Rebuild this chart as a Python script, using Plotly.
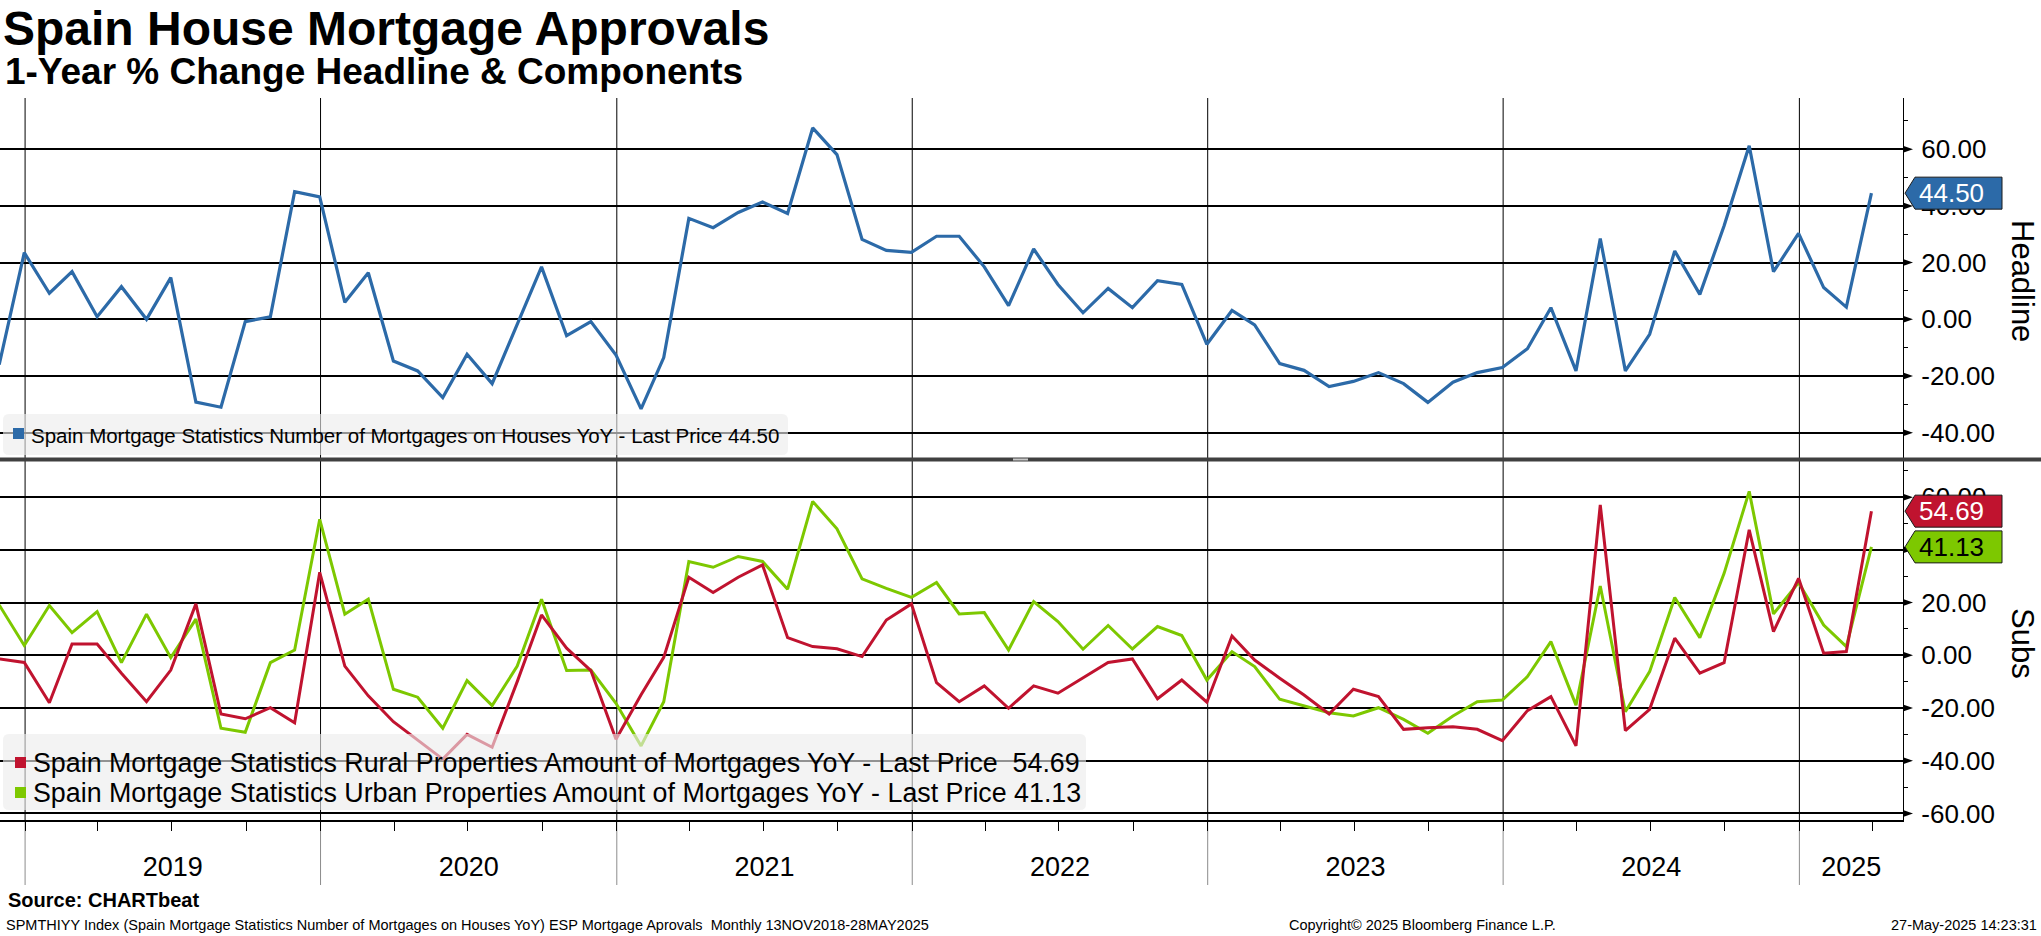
import pandas as pd
import plotly.graph_objects as go

# ---------------- data ----------------
months = pd.date_range("2018-11-30", "2025-03-31", freq="ME")

headline = [
    -16.0, 23.5,
    9.2, 16.8, 0.9, 11.5, 0.0, 14.7, -29.2, -31.0, -0.8, 0.9, 45.0, 43.2,
    6.0, 16.4, -14.7, -18.2, -27.6, -12.3, -22.7, -2.0, 18.5, -5.8, -0.8, -12.6,
    -31.6, -13.5, 35.6, 32.3, 37.7, 41.4, 37.3, 67.5, 58.1, 28.2, 24.3, 23.6,
    29.3, 29.3, 18.5, 4.8, 24.8, 12.3, 2.3, 10.9, 4.1, 13.6, 12.3, -8.8,
    3.1, -2.0, -15.6, -18.0, -23.7, -21.9, -18.8, -22.7, -29.3, -22.2, -18.8, -17.0,
    -10.4, 4.1, -18.2, 28.5, -18.2, -5.3, 24.1, 8.8, 33.0, 61.2, 16.8, 30.3,
    11.2, 4.3, 44.50,
]

rural = [
    -1.4, -2.7,
    -18.0, 4.3, 4.3, -6.8, -17.6, -5.6, 19.5, -22.3, -24.1, -19.9, -25.6, 31.5,
    -4.1, -15.4, -25.2, -32.2, -39.4, -30.0, -34.9, -10.0, 15.3, 2.7, -5.8, -31.9,
    -15.0, -0.8, 29.6, 23.8, 29.6, 34.3, 6.7, 3.3, 2.5, -0.5, 13.4, 19.5,
    -10.4, -17.6, -11.6, -20.1, -11.6, -14.4, -8.5, -2.7, -1.4, -16.5, -9.4, -17.8,
    7.3, -1.8, -8.7, -15.1, -22.3, -12.9, -15.7, -28.1, -27.5, -27.1, -28.1, -32.4,
    -21.0, -15.7, -34.4, 57.1, -28.6, -20.5, 6.5, -6.8, -2.8, 47.6, 9.0, 29.2,
    0.8, 1.4, 54.69,
]

urban = [
    19.1, 3.7,
    18.9, 8.6, 16.6, -2.8, 15.6, -0.9, 13.7, -27.7, -29.2, -2.8, 2.0, 51.6,
    15.6, 21.3, -12.9, -15.9, -27.7, -9.6, -19.1, -4.1, 21.3, -5.8, -5.6, -18.2,
    -34.4, -17.6, 35.6, 33.4, 37.5, 35.6, 25.1, 58.4, 48.0, 29.0, 25.4, 22.0,
    27.6, 15.7, 16.2, 2.0, 20.4, 12.8, 2.3, 11.3, 2.4, 10.9, 7.5, -9.4,
    1.4, -4.3, -16.7, -19.2, -21.8, -23.0, -19.9, -24.3, -29.6, -23.0, -17.6, -17.0,
    -8.1, 5.2, -18.9, 26.3, -21.4, -6.2, 21.9, 6.7, 31.1, 62.2, 15.7, 27.6,
    11.5, 3.3, 41.13,
]

years = [2019, 2020, 2021, 2022, 2023, 2024, 2025]
top_ticks = [-40, -20, 0, 20, 40, 60]
sub_ticks = [-60, -40, -20, 0, 20, 40, 60]

headline_name = "Spain Mortgage Statistics Number of Mortgages on Houses YoY"
rural_name = "Spain Mortgage Statistics Rural Properties Amount of Mortgages YoY"
urban_name = "Spain Mortgage Statistics Urban Properties Amount of Mortgages YoY"

title = "Spain House Mortgage Approvals"
subtitle = "1-Year % Change Headline & Components"
source = "Source: CHARTbeat"
footer = ("SPMTHIYY Index (Spain Mortgage Statistics Number of Mortgages on Houses YoY) "
          "ESP Mortgage Aprovals\u00a0 Monthly 13NOV2018-28MAY2025")
copyright_txt = "Copyright\u00a9 2025 Bloomberg Finance L.P."
stamp = "27-May-2025 14:23:31"

# ---------------- styles / layout ----------------
BLUE = "#2c6aa8"
RED = "#c0132f"
GREEN = "#7dc800"
FONT = "Liberation Sans"

W, H = 2041, 936
PL, PR, PT, PB = 0, 1903, 98, 820      # plot area in screen px
TOP_BOTTOM_PX, SUB_TOP_PX = 458, 460
X_RANGE = ["2018-12-01", "2025-05-09"]
Y1_RANGE = [-48.92, 78.06]
Y2_RANGE = [-62.5, 74.1]


def py(px):
    return (PB - px) / (PB - PT)


def pxx(px):
    return (px - PL) / (PR - PL)


def rrect(x0, y0, x1, y1, r):
    X0, X1 = x0 - PL, x1 - PL
    Yt, Yb = PB - y0, PB - y1
    return (f"M{X0 + r},{Yt} L{X1 - r},{Yt} Q{X1},{Yt} {X1},{Yt - r} "
            f"L{X1},{Yb + r} Q{X1},{Yb} {X1 - r},{Yb} L{X0 + r},{Yb} "
            f"Q{X0},{Yb} {X0},{Yb + r} L{X0},{Yt - r} Q{X0},{Yt} {X0 + r},{Yt} Z")


def pixel_shape(path, fill, line_w=0, line_c="black", layer="above"):
    return dict(type="path", xref="paper", yref="paper", xsizemode="pixel",
                ysizemode="pixel", xanchor=0, yanchor=0, path=path,
                fillcolor=fill, line=dict(width=line_w, color=line_c), layer=layer)


fig = go.Figure()
fig.add_trace(go.Scatter(x=months, y=headline, mode="lines", name=headline_name,
                         line=dict(color=BLUE, width=3.2), xaxis="x", yaxis="y"))
fig.add_trace(go.Scatter(x=months, y=urban, mode="lines", name=urban_name,
                         line=dict(color=GREEN, width=3), xaxis="x2", yaxis="y2"))
fig.add_trace(go.Scatter(x=months, y=rural, mode="lines", name=rural_name,
                         line=dict(color=RED, width=3), xaxis="x2", yaxis="y2"))

# year label positions: middle of each visible year
x_end = pd.Timestamp(X_RANGE[1])
mids = []
for yr in years:
    s = pd.Timestamp(yr, 1, 1)
    e = min(pd.Timestamp(yr + 1, 1, 1), x_end)
    mids.append(s + (e - s) / 2)

yaxis_common = dict(side="right", tickmode="array", ticks="outside", ticklen=12,
                    tickcolor="rgba(0,0,0,0)", showline=True, linecolor="black",
                    linewidth=1.2, showgrid=True, gridcolor="black", gridwidth=1.5,
                    zeroline=False, tickfont=dict(size=26, family=FONT, color="black"),
                    minor=dict(dtick=10, tick0=0, ticks="outside", ticklen=4,
                               tickcolor="black", tickwidth=1, showgrid=False))

fig.update_layout(
    width=W, height=H,
    margin=dict(l=PL, r=W - PR, t=PT, b=H - PB, pad=0),
    paper_bgcolor="white", plot_bgcolor="rgba(0,0,0,0)",
    showlegend=False, hovermode=False,
    font=dict(family=FONT, color="black"),
    xaxis=dict(domain=[0, 1], anchor="y", range=X_RANGE, type="date",
               showgrid=False, showticklabels=False, ticks="", showline=False,
               zeroline=False),
    xaxis2=dict(domain=[0, 1], anchor="y2", range=X_RANGE, type="date", matches="x",
                tickmode="array", tickvals=mids, ticktext=[str(y) for y in years],
                ticks="", showgrid=False, showline=True, linecolor="black",
                linewidth=1.5, zeroline=False, ticklabelstandoff=22,
                tickfont=dict(size=27, family=FONT, color="black"),
                minor=dict(dtick="M3", tick0="2019-01-01", ticks="outside",
                           ticklen=9, tickcolor="black", tickwidth=1, showgrid=False)),
    yaxis=dict(domain=[py(TOP_BOTTOM_PX), 1], anchor="x", range=Y1_RANGE,
               tickvals=top_ticks, ticktext=[f"{v:.2f}" for v in top_ticks],
               **yaxis_common),
    yaxis2=dict(domain=[0, py(SUB_TOP_PX)], anchor="x2", range=Y2_RANGE,
                tickvals=sub_ticks, ticktext=[f"{v:.2f}" for v in sub_ticks],
                **yaxis_common),
)

shapes = []
# vertical year lines
for yr in years:
    d = f"{yr}-01-01"
    shapes.append(dict(type="line", xref="x", yref="paper", x0=d, x1=d, y0=0, y1=1,
                       line=dict(color="black", width=1), layer="below"))
    shapes.append(dict(type="line", xref="x", yref="paper", x0=d, x1=d,
                       y0=py(885), y1=0, line=dict(color="#8c8c8c", width=1),
                       layer="below"))

# tick triangles
for yref, ticks in (("y", top_ticks), ("y2", sub_ticks)):
    for v in ticks:
        shapes.append(dict(type="path", xref="paper", yref=yref, xsizemode="pixel",
                           ysizemode="pixel", xanchor=1, yanchor=v,
                           path="M0,3.5 L10,0 L0,-3.5 Z", fillcolor="black",
                           line=dict(width=0), layer="above"))

# separator between panels
shapes.append(dict(type="line", xref="paper", yref="paper", x0=0, x1=pxx(W),
                   y0=py(459.5), y1=py(459.5), line=dict(color="#404040", width=4),
                   layer="above"))
shapes.append(dict(type="line", xref="paper", yref="paper", x0=pxx(1013), x1=pxx(1028),
                   y0=py(459.5), y1=py(459.5), line=dict(color="#c8c8c8", width=2),
                   layer="above"))

# legend boxes (semi-transparent) and swatches
shapes.append(pixel_shape(rrect(3, 414, 788, 455, 6), "rgba(236,236,236,0.62)"))
shapes.append(pixel_shape(rrect(13, 428, 24, 439, 0), BLUE))
shapes.append(pixel_shape(rrect(3, 734, 1086, 810, 6), "rgba(236,236,236,0.62)"))
shapes.append(pixel_shape(rrect(15, 757, 26, 768, 0), RED))
shapes.append(pixel_shape(rrect(15, 787, 26, 798, 0), GREEN))

# last value tags
tag_path = "M2,0 L12,16 L99,16 L99,-16 L12,-16 Z"
for yref, val, col in (("y", headline[-1], BLUE), ("y2", rural[-1], RED),
                       ("y2", urban[-1], GREEN)):
    shapes.append(dict(type="path", xref="paper", yref=yref, xsizemode="pixel",
                       ysizemode="pixel", xanchor=1, yanchor=val, path=tag_path,
                       fillcolor=col, line=dict(width=1, color="#1a1a1a"),
                       layer="above"))

fig.update_layout(shapes=shapes)

ann = []
ann.append(dict(text=f"<b>{title}</b>", x=pxx(1), y=py(28), xref="paper", yref="paper",
                xanchor="left", yanchor="middle", showarrow=False,
                font=dict(size=48, family=FONT, color="black")))
ann.append(dict(text=f"<b>{subtitle}</b>", x=pxx(3), y=py(72), xref="paper",
                yref="paper", xanchor="left", yanchor="middle", showarrow=False,
                font=dict(size=37, family=FONT, color="black")))
ann.append(dict(text=f"<b>{source}</b>", x=pxx(6), y=py(900), xref="paper",
                yref="paper", xanchor="left", yanchor="middle", showarrow=False,
                font=dict(size=20, family=FONT, color="black")))
ann.append(dict(text=footer, x=pxx(4), y=py(925), xref="paper", yref="paper",
                xanchor="left", yanchor="middle", showarrow=False,
                font=dict(size=14.5, family=FONT, color="black")))
ann.append(dict(text=copyright_txt, x=pxx(1287), y=py(925), xref="paper", yref="paper",
                xanchor="left", yanchor="middle", showarrow=False,
                font=dict(size=14.5, family=FONT, color="black")))
ann.append(dict(text=stamp, x=pxx(2039), y=py(925), xref="paper", yref="paper",
                xanchor="right", yanchor="middle", showarrow=False,
                font=dict(size=14.5, family=FONT, color="black")))

# panel titles on the right
ann.append(dict(text="Headline", x=pxx(2023), y=py(281), xref="paper", yref="paper",
                xanchor="center", yanchor="middle", textangle=90, showarrow=False,
                font=dict(size=31, family=FONT, color="black")))
ann.append(dict(text="Subs", x=pxx(2023), y=py(643), xref="paper", yref="paper",
                xanchor="center", yanchor="middle", textangle=90, showarrow=False,
                font=dict(size=31, family=FONT, color="black")))

# legend texts
ann.append(dict(text=f"{headline_name} - Last Price {headline[-1]:.2f}",
                x=pxx(29), y=py(435), xref="paper", yref="paper", xanchor="left",
                yanchor="middle", showarrow=False,
                font=dict(size=20.5, family=FONT, color="black")))
ann.append(dict(text=f"{rural_name} - Last Price\u00a0 {rural[-1]:.2f}",
                x=pxx(31), y=py(763), xref="paper", yref="paper", xanchor="left",
                yanchor="middle", showarrow=False,
                font=dict(size=26.8, family=FONT, color="black")))
ann.append(dict(text=f"{urban_name} - Last Price {urban[-1]:.2f}",
                x=pxx(31), y=py(793), xref="paper", yref="paper", xanchor="left",
                yanchor="middle", showarrow=False,
                font=dict(size=26.8, family=FONT, color="black")))

# tag labels
for yref, val, tc in (("y", headline[-1], "white"), ("y2", rural[-1], "white"),
                      ("y2", urban[-1], "black")):
    ann.append(dict(text=f"{val:.2f}", x=1, xref="paper", xanchor="left", xshift=14,
                    y=val, yref=yref, yanchor="middle", showarrow=False,
                    font=dict(size=26, family=FONT, color=tc)))

fig.update_layout(annotations=ann)

fig.write_html(
    "out.html",
    config={"displayModeBar": False},
    post_script="document.body.style.margin='0px';document.body.style.overflow='hidden';",
)
